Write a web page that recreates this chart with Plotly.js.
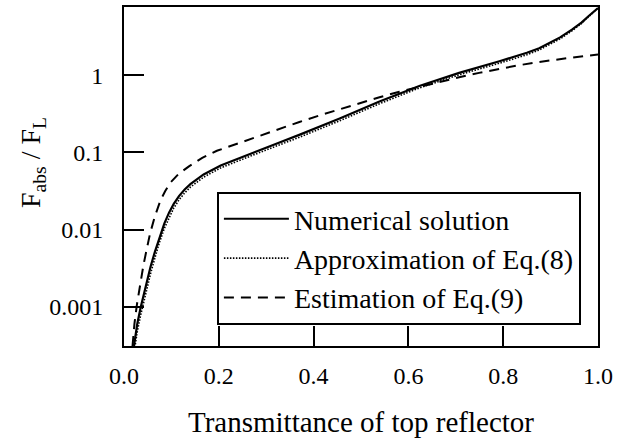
<!DOCTYPE html>
<html>
<head>
<meta charset="utf-8">
<script src="https://cdn.plot.ly/plotly-3.0.1.min.js"></script>
<style>html,body{margin:0;padding:0;background:#fff;}#chart{width:639px;height:443px;}</style>
</head>
<body>
<div id="chart"></div>
<script>
// Transmittance of top reflector (x) and F_abs / F_L (y)
const tNumerical = [0.021, 0.028, 0.035, 0.045, 0.056, 0.065, 0.074, 0.085, 0.095, 0.105, 0.116, 0.128, 0.14, 0.168, 0.204, 0.239, 0.274, 0.32, 0.371, 0.455, 0.539, 0.623, 0.707, 0.792, 0.85, 0.876, 0.92, 0.945, 0.965, 0.981, 0.99, 1.0];
const yNumerical = [0.000312, 0.000603, 0.000977, 0.00182, 0.00331, 0.00513, 0.00776, 0.0120, 0.0166, 0.0216, 0.0272, 0.0331, 0.0389, 0.0519, 0.0676, 0.0832, 0.100, 0.129, 0.170, 0.275, 0.457, 0.724, 1.072, 1.514, 1.950, 2.239, 3.090, 3.890, 4.786, 5.888, 6.607, 7.413];

const tApprox = [0.021, 0.028, 0.035, 0.045, 0.056, 0.065, 0.074, 0.085, 0.095, 0.105, 0.116, 0.128, 0.14, 0.168, 0.204, 0.239, 0.274, 0.32, 0.371, 0.455, 0.539, 0.623, 0.707, 0.792, 0.85, 0.876, 0.92, 0.945, 0.965, 0.981, 0.99, 1.0];
const yApprox = [0.000251, 0.000479, 0.000776, 0.00145, 0.00269, 0.00427, 0.00661, 0.01035, 0.01445, 0.0191, 0.0243, 0.0299, 0.0355, 0.0479, 0.0631, 0.0776, 0.0933, 0.120, 0.158, 0.257, 0.427, 0.684, 1.012, 1.429, 1.841, 2.123, 2.951, 3.758, 4.656, 5.781, 6.531, 7.413];

const tEstimate = [0.018, 0.022, 0.027, 0.034, 0.041, 0.048, 0.055, 0.065, 0.077, 0.087, 0.098, 0.115, 0.137, 0.165, 0.196, 0.244, 0.285, 0.328, 0.37, 0.413, 0.455, 0.497, 0.539, 0.581, 0.623, 0.665, 0.707, 0.749, 0.792, 0.834, 0.876, 0.918, 0.96, 1.0];
const yEstimate = [0.000312, 0.000603, 0.00105, 0.00200, 0.00347, 0.00562, 0.00891, 0.0148, 0.0240, 0.0316, 0.0407, 0.0525, 0.0661, 0.0851, 0.105, 0.133, 0.164, 0.204, 0.248, 0.302, 0.363, 0.437, 0.519, 0.610, 0.708, 0.818, 0.940, 1.072, 1.211, 1.349, 1.486, 1.614, 1.738, 1.849];

const seriesNames = ["Numerical solution", "Approximation of Eq.(8)", "Estimation of Eq.(9)"];
const xTickVals = [0, 0.2, 0.4, 0.6, 0.8, 1.0];
const xTickText = ["0.0", "0.2", "0.4", "0.6", "0.8", "1.0"];
const yTickVals = [0.001, 0.01, 0.1, 1];
const yTickText = ["0.001", "0.01", "0.1", "1"];

const FONT = "Liberation Serif, Times New Roman, serif";

const traces = [
  {x: tNumerical, y: yNumerical, name: seriesNames[0], mode: "lines", line: {color: "#000", width: 2.2}},
  {x: tApprox, y: yApprox, name: seriesNames[1], mode: "lines", line: {color: "#000", width: 1.6, dash: "1.5px,1.5px"}},
  {x: tEstimate, y: yEstimate, name: seriesNames[2], mode: "lines", line: {color: "#000", width: 2, dash: "10px,7px"}}
];

const layout = {
  width: 639, height: 443,
  margin: {l: 124, r: 41, t: 7, b: 97},
  paper_bgcolor: "#fff", plot_bgcolor: "#fff",
  font: {family: FONT, color: "#000", size: 24},
  showlegend: true,
  legend: {
    x: 0.196, y: 0.258, xanchor: "left", yanchor: "middle",
    bgcolor: "#fff", bordercolor: "#000", borderwidth: 2,
    font: {family: FONT, size: 28, color: "#000"},
    itemwidth: 65,
    tracegroupgap: 0
  },
  xaxis: {
    range: [0, 1],
    tickvals: xTickVals, ticktext: xTickText,
    ticks: "inside", ticklen: 20, tickwidth: 2, tickcolor: "#000",
    showline: true, linewidth: 2, linecolor: "#000", mirror: true,
    showgrid: false, zeroline: false,
    tickfont: {family: FONT, size: 24, color: "#000"},
    ticklabelstandoff: 7,
    title: {text: "Transmittance of top reflector", font: {family: FONT, size: 29, color: "#000"}, standoff: 24}
  },
  yaxis: {
    type: "log",
    range: [-3.506, 0.883],
    tickvals: yTickVals, ticktext: yTickText,
    ticks: "inside", ticklen: 20, tickwidth: 2, tickcolor: "#000",
    showline: true, linewidth: 2, linecolor: "#000", mirror: true,
    showgrid: false, zeroline: false,
    tickfont: {family: FONT, size: 24, color: "#000"},
    ticklabelstandoff: 14,
    title: {text: "&nbsp;&nbsp;&nbsp;&nbsp;F<sub>abs</sub> / F<sub>L</sub>", font: {family: FONT, size: 28, color: "#000"}, standoff: 0}
  }
};

Plotly.newPlot("chart", traces, layout, {displayModeBar: false, staticPlot: true});
</script>
</body>
</html>
